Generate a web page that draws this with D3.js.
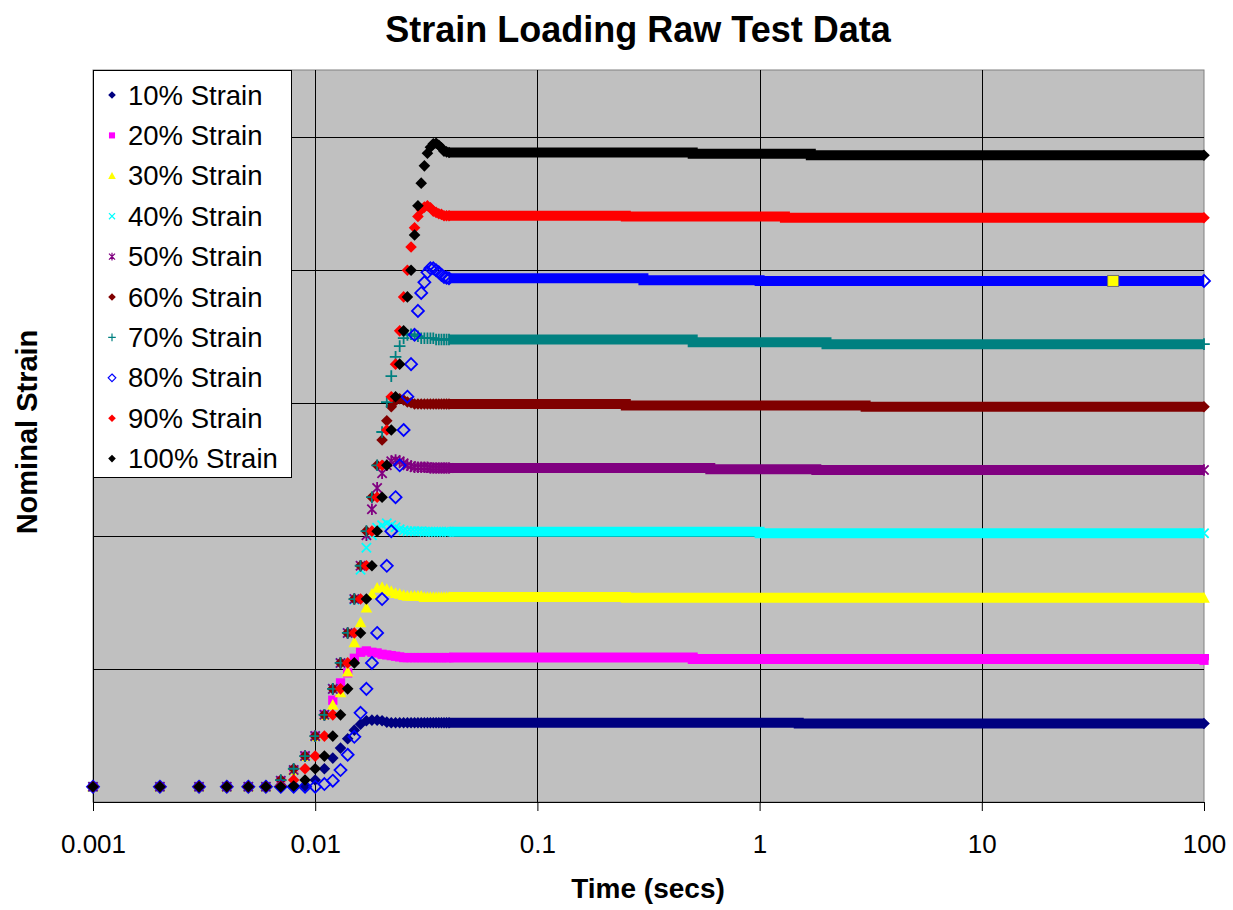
<!DOCTYPE html>
<html>
<head>
<meta charset="utf-8">
<script src="https://cdn.jsdelivr.net/npm/d3@7"></script>
<style>
  body { margin: 0; background: #fff; }
  svg { display: block; font-family: "Liberation Sans", Arial, sans-serif; }
</style>
</head>
<body>
<svg width="1233" height="910"></svg>
<script>
// Temps d'échantillonnage de la rampe (s) - un point par milliseconde
const rampTimes = [0.001, 0.002, 0.003, 0.004, 0.005, 0.006, 0.007, 0.008, 0.009, 0.010,
                   0.011, 0.012, 0.013, 0.014, 0.015, 0.016, 0.017, 0.018, 0.019, 0.020,
                   0.021, 0.022, 0.023, 0.024, 0.025, 0.026, 0.027, 0.028, 0.029, 0.030,
                   0.031, 0.032, 0.033, 0.034, 0.035, 0.036, 0.037, 0.038, 0.039, 0.040];

// Déformation nominale pendant la rampe, une liste par essai
const ramp10 = [0.023, 0.023, 0.023, 0.023, 0.023, 0.023, 0.023, 0.023, 0.024, 0.033,
                0.050, 0.066, 0.081, 0.095, 0.108, 0.117, 0.122, 0.123, 0.123, 0.122,
                0.120, 0.119, 0.119, 0.119, 0.119, 0.119, 0.119, 0.119, 0.119, 0.119,
                0.119, 0.119, 0.119, 0.119, 0.119, 0.119, 0.119, 0.119, 0.119, 0.119];
const ramp20 = [0.023, 0.023, 0.023, 0.023, 0.023, 0.023, 0.032, 0.048, 0.069, 0.099,
                0.131, 0.153, 0.179, 0.194, 0.216, 0.225, 0.227, 0.225, 0.224, 0.222,
                0.221, 0.220, 0.219, 0.218, 0.217, 0.217, 0.217, 0.217, 0.217, 0.217,
                0.217, 0.217, 0.217, 0.217, 0.217, 0.217, 0.217, 0.217, 0.217, 0.217];
const ramp30 = [0.023, 0.023, 0.023, 0.023, 0.023, 0.023, 0.032, 0.048, 0.069, 0.099,
                0.131, 0.146, 0.165, 0.196, 0.240, 0.270, 0.292, 0.313, 0.322, 0.323,
                0.320, 0.317, 0.314, 0.313, 0.311, 0.310, 0.310, 0.310, 0.310, 0.310,
                0.308, 0.308, 0.308, 0.308, 0.308, 0.308, 0.308, 0.308, 0.308, 0.308];
const ramp40 = [0.023, 0.023, 0.023, 0.023, 0.023, 0.023, 0.032, 0.048, 0.069, 0.099,
                0.131, 0.170, 0.209, 0.254, 0.304, 0.349, 0.382, 0.401, 0.412, 0.416,
                0.419, 0.416, 0.413, 0.410, 0.408, 0.407, 0.407, 0.407, 0.407, 0.407,
                0.406, 0.406, 0.406, 0.406, 0.406, 0.406, 0.406, 0.406, 0.406, 0.406];
const ramp50 = [0.023, 0.023, 0.023, 0.023, 0.023, 0.023, 0.032, 0.048, 0.069, 0.099,
                0.131, 0.170, 0.209, 0.254, 0.305, 0.355, 0.401, 0.440, 0.472, 0.494,
                0.506, 0.512, 0.514, 0.512, 0.509, 0.506, 0.505, 0.503, 0.503, 0.503,
                0.503, 0.503, 0.502, 0.502, 0.502, 0.502, 0.502, 0.502, 0.502, 0.502];
const ramp60 = [0.023, 0.023, 0.023, 0.023, 0.023, 0.024, 0.033, 0.050, 0.069, 0.099,
                0.131, 0.170, 0.209, 0.254, 0.305, 0.355, 0.407, 0.458, 0.506, 0.544,
                0.573, 0.594, 0.603, 0.606, 0.604, 0.601, 0.600, 0.598, 0.598, 0.598,
                0.598, 0.598, 0.598, 0.598, 0.598, 0.598, 0.598, 0.598, 0.598, 0.598];
const ramp70 = [0.023, 0.023, 0.023, 0.023, 0.023, 0.024, 0.033, 0.050, 0.069, 0.099,
                0.131, 0.170, 0.209, 0.254, 0.305, 0.355, 0.407, 0.458, 0.506, 0.556,
                0.601, 0.640, 0.669, 0.685, 0.697, 0.702, 0.703, 0.702, 0.700, 0.697,
                0.697, 0.697, 0.697, 0.697, 0.695, 0.695, 0.695, 0.695, 0.695, 0.695];
const ramp80 = [0.023, 0.023, 0.023, 0.023, 0.023, 0.023, 0.023, 0.023, 0.023, 0.023,
                0.027, 0.032, 0.048, 0.071, 0.098, 0.134, 0.170, 0.209, 0.254, 0.305,
                0.355, 0.407, 0.458, 0.506, 0.559, 0.609, 0.658, 0.702, 0.738, 0.765,
                0.781, 0.796, 0.802, 0.802, 0.799, 0.796, 0.792, 0.789, 0.788, 0.787];
const ramp90 = [0.023, 0.023, 0.023, 0.023, 0.023, 0.023, 0.024, 0.033, 0.050, 0.069,
                0.099, 0.131, 0.170, 0.209, 0.254, 0.305, 0.355, 0.407, 0.458, 0.506,
                0.559, 0.609, 0.658, 0.708, 0.759, 0.799, 0.834, 0.863, 0.880, 0.890,
                0.894, 0.896, 0.893, 0.888, 0.886, 0.884, 0.883, 0.881, 0.881, 0.881];
const ramp100 = [0.023, 0.023, 0.023, 0.023, 0.023, 0.023, 0.023, 0.024, 0.033, 0.050,
                 0.069, 0.099, 0.131, 0.170, 0.209, 0.254, 0.305, 0.355, 0.407, 0.458,
                 0.506, 0.559, 0.609, 0.658, 0.708, 0.759, 0.799, 0.852, 0.896, 0.930,
                 0.956, 0.975, 0.984, 0.989, 0.990, 0.987, 0.983, 0.978, 0.977, 0.976];

// Palier de maintien (0.04 s -> 100 s) : [temps, déformation] à chaque petit saut de niveau
const hold10 = [[0.04, 0.119], [1.5, 0.118], [100, 0.118]];
const hold20 = [[0.04, 0.217], [0.5, 0.215], [100, 0.213]];
const hold30 = [[0.04, 0.308], [0.25, 0.307], [100, 0.307]];
const hold40 = [[0.04, 0.406], [1, 0.404], [100, 0.404]];
const hold50 = [[0.04, 0.502], [0.6, 0.500], [1.8, 0.499], [100, 0.499]];
const hold60 = [[0.04, 0.598], [0.25, 0.596], [3, 0.594], [100, 0.594]];
const hold70 = [[0.04, 0.695], [0.5, 0.691], [2, 0.688], [100, 0.688]];
const hold80 = [[0.04, 0.787], [0.3, 0.784], [1, 0.783], [100, 0.783]];
const hold90 = [[0.04, 0.881], [0.25, 0.880], [1.3, 0.878], [100, 0.878]];
const hold100 = [[0.04, 0.976], [0.5, 0.974], [1.7, 0.972], [100, 0.972]];

// Point sélectionné (carré jaune) sur la courbe 80 %
const selectedPoint = [[39, 0.783]];

const seriesNames = ["10% Strain", "20% Strain", "30% Strain", "40% Strain", "50% Strain",
                     "60% Strain", "70% Strain", "80% Strain", "90% Strain", "100% Strain"];
const seriesColors = ["#000080", "#FF00FF", "#FFFF00", "#00FFFF", "#800080",
                      "#800000", "#008080", "#0000FF", "#FF0000", "#000000"];
const seriesMarkers = ["diamond", "square", "triangle", "cross", "star",
                       "diamond", "plus", "openDiamond", "diamond", "diamond"];
const ramps = [ramp10, ramp20, ramp30, ramp40, ramp50, ramp60, ramp70, ramp80, ramp90, ramp100];
const holds = [hold10, hold20, hold30, hold40, hold50, hold60, hold70, hold80, hold90, hold100];

const xTicks = [0.001, 0.01, 0.1, 1, 10, 100];
const xTickLabels = ["0.001", "0.01", "0.1", "1", "10", "100"];
const yGrid = [0.2, 0.4, 0.6, 0.8, 1.0];

// Paramètres principaux
const svg = d3.select("svg");
const plot = { left: 93, top: 70, right: 1204, bottom: 802 };

const x = d3.scaleLog().domain([0.001, 100]).range([plot.left, plot.right]);
const y = d3.scaleLinear().domain([0, 1.1]).range([plot.bottom, plot.top]);

// Formes des marqueurs (style Excel)
function markerPath(type, r) {
  switch (type) {
    case "diamond":
    case "openDiamond":
      return `M0,${-r}L${r},0L0,${r}L${-r},0Z`;
    case "square":
      return `M${-r * 0.8},${-r * 0.8}h${r * 1.6}v${r * 1.6}h${-r * 1.6}Z`;
    case "triangle":
      return `M0,${-r}L${r},${r * 0.85}L${-r},${r * 0.85}Z`;
    case "cross":
      return `M${-r * 0.8},${-r * 0.8}L${r * 0.8},${r * 0.8}M${r * 0.8},${-r * 0.8}L${-r * 0.8},${r * 0.8}`;
    case "star":
      return `M${-r * 0.8},${-r * 0.8}L${r * 0.8},${r * 0.8}M${r * 0.8},${-r * 0.8}L${-r * 0.8},${r * 0.8}M0,${-r}V${r}`;
    case "plus":
      return `M${-r},0H${r}M0,${-r}V${r}`;
  }
}
const strokedMarkers = ["cross", "star", "plus", "openDiamond"];
function styleMarker(sel, type, color, width) {
  const stroked = strokedMarkers.includes(type);
  sel.attr("fill", stroked ? "none" : color)
     .attr("stroke", stroked ? color : "none")
     .attr("stroke-width", stroked ? width : 0);
}

// Fond de la zone de tracé
svg.append("rect")
  .attr("x", plot.left).attr("y", plot.top)
  .attr("width", plot.right - plot.left).attr("height", plot.bottom - plot.top)
  .attr("fill", "#C0C0C0").attr("stroke", "#808080").attr("stroke-width", 1);

// Quadrillage
svg.append("g").selectAll("line").data(yGrid).enter().append("line")
  .attr("x1", plot.left).attr("x2", plot.right)
  .attr("y1", d => Math.round(y(d)) + 0.5).attr("y2", d => Math.round(y(d)) + 0.5)
  .attr("stroke", "#000").attr("stroke-width", 1);
svg.append("g").selectAll("line").data(xTicks.slice(1, -1)).enter().append("line")
  .attr("y1", plot.top).attr("y2", plot.bottom)
  .attr("x1", d => Math.round(x(d)) + 0.5).attr("x2", d => Math.round(x(d)) + 0.5)
  .attr("stroke", "#000").attr("stroke-width", 1);

// Axe des x
const xAxis = svg.append("g")
  .attr("transform", `translate(0,${plot.bottom})`)
  .call(d3.axisBottom(x).tickValues(xTicks).tickFormat((d, i) => xTickLabels[i]).tickSize(9).tickSizeOuter(0));
xAxis.select(".domain").attr("stroke", "#000");
xAxis.selectAll(".tick line").attr("stroke", "#000");
xAxis.selectAll("text")
  .attr("y", 51).attr("dy", 0)
  .attr("font-size", 26).attr("font-family", "Liberation Sans, Arial, sans-serif").attr("fill", "#000");

// Axe des y (sans graduations)
svg.append("line")
  .attr("x1", plot.left + 0.5).attr("x2", plot.left + 0.5)
  .attr("y1", plot.top).attr("y2", plot.bottom)
  .attr("stroke", "#000");

// Courbes
const holdLine = d3.line()
  .x(d => x(d[0]))
  .y(d => y(d[1]))
  .curve(d3.curveStepAfter);

const seriesG = svg.append("g");
ramps.forEach((ramp, i) => {
  const g = seriesG.append("g");
  const hold = holds[i];
  const type = seriesMarkers[i];

  // palier : les marqueurs se recouvrent en bande continue
  g.append("path")
    .attr("d", holdLine(hold))
    .attr("fill", "none")
    .attr("stroke", seriesColors[i])
    .attr("stroke-width", 10);

  const pts = ramp.map((v, k) => [rampTimes[k], v]).concat([hold[hold.length - 1]]);
  g.selectAll("path.pt").data(pts).enter().append("path")
    .attr("class", "pt")
    .attr("transform", d => `translate(${x(d[0])},${y(d[1])})`)
    .attr("d", markerPath(type, type === "openDiamond" ? 6 : 5.8))
    .call(styleMarker, type, seriesColors[i], 1.8);
});

// Point sélectionné
svg.append("g").selectAll("rect").data(selectedPoint).enter().append("rect")
  .attr("x", d => x(d[0]) - 5.5).attr("y", d => y(d[1]) - 5.5)
  .attr("width", 11).attr("height", 11)
  .attr("fill", "#FFFF00").attr("stroke", "#707070").attr("stroke-width", 1);

// LÉGENDE
const legend = svg.append("g");
legend.append("rect")
  .attr("x", 93.5).attr("y", 70.5).attr("width", 198).attr("height", 407)
  .attr("fill", "#fff").attr("stroke", "#000").attr("stroke-width", 1);

const item = legend.selectAll(".legend-item").data(seriesNames).enter().append("g")
  .attr("class", "legend-item")
  .attr("transform", (d, i) => `translate(0,${95 + i * 40.4})`);
item.append("path")
  .attr("transform", "translate(112,0)")
  .attr("d", (d, i) => markerPath(seriesMarkers[i], 3.8))
  .each(function(d, i) { d3.select(this).call(styleMarker, seriesMarkers[i], seriesColors[i], 1.2); });
item.append("text")
  .attr("x", 128).attr("y", 9.5)
  .attr("font-size", 27.5)
  .text(d => d);

// Titres
svg.append("text")
  .attr("x", 638).attr("y", 42)
  .attr("text-anchor", "middle").attr("font-weight", "bold").attr("font-size", 36)
  .text("Strain Loading Raw Test Data");
svg.append("text")
  .attr("x", 648).attr("y", 898)
  .attr("text-anchor", "middle").attr("font-weight", "bold").attr("font-size", 28)
  .text("Time (secs)");
svg.append("text")
  .attr("transform", "translate(37,432) rotate(-90)")
  .attr("text-anchor", "middle").attr("font-weight", "bold").attr("font-size", 29)
  .text("Nominal Strain");
</script>
</body>
</html>
